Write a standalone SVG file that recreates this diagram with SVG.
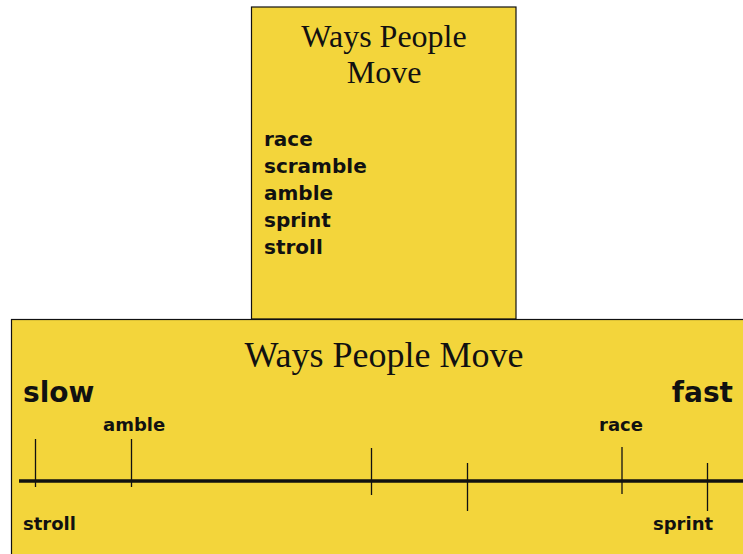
<svg xmlns="http://www.w3.org/2000/svg" width="743" height="554" viewBox="0 0 743 554">
<style>
.box{fill:#F3D53B;stroke:#111;stroke-width:1.2}
.title{font-family:"Liberation Serif","Times New Roman",serif;fill:#111;text-anchor:middle}
.word{font-family:"DejaVu Sans",sans-serif;font-weight:bold;fill:#111}
.tick{stroke:#111;stroke-width:1.3}
</style>
<rect width="743" height="554" fill="#fff"/>
<g id="list-card">
<rect class="box" x="251.5" y="7" width="264.5" height="312"/>
<text class="title" x="384" y="47" font-size="32">Ways People</text>
<text class="title" x="384" y="83" font-size="32">Move</text>
<text class="word" x="264" y="146" font-size="20">race</text>
<text class="word" x="264" y="173" font-size="20">scramble</text>
<text class="word" x="264" y="200" font-size="20">amble</text>
<text class="word" x="264" y="227" font-size="20">sprint</text>
<text class="word" x="264" y="254" font-size="20">stroll</text>
</g>
<g id="scale-card">
<rect class="box" x="11.5" y="319.5" width="740" height="245"/>
<text class="title" x="384" y="367" font-size="36">Ways People Move</text>
<text class="word" x="23" y="402" font-size="28">slow</text>
<text class="word" x="733" y="402" font-size="28" text-anchor="end">fast</text>
</g>
<g id="timeline">
<line x1="19" y1="481" x2="743" y2="481" stroke="#111" stroke-width="3.5"/>
<line class="tick" x1="35.5" y1="439" x2="35.5" y2="487"/>
<line class="tick" x1="131.5" y1="439" x2="131.5" y2="487"/>
<line class="tick" x1="371.5" y1="448" x2="371.5" y2="495"/>
<line class="tick" x1="467.5" y1="463" x2="467.5" y2="511"/>
<line class="tick" x1="622" y1="447" x2="622" y2="494"/>
<line class="tick" x1="707.5" y1="463" x2="707.5" y2="511"/>
</g>
<g id="labels">
<text class="word" x="103" y="431" font-size="18">amble</text>
<text class="word" x="599" y="431" font-size="18">race</text>
<text class="word" x="23" y="530" font-size="18">stroll</text>
<text class="word" x="653" y="530" font-size="18">sprint</text>
</g>
</svg>
